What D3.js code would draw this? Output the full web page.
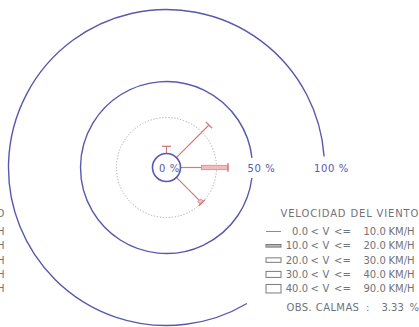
<!DOCTYPE html>
<html><head><meta charset="utf-8">
<script src="https://cdn.jsdelivr.net/npm/d3@7"></script>
<style>
html,body{margin:0;padding:0;background:#fff;overflow:hidden;}
svg{display:block;}
text{font-family:"DejaVu Sans",sans-serif;}
</style></head>
<body>
<svg id="c" width="419" height="327"></svg>
<script>
// ---- data ----
const directions = ["N", "NE", "E", "SE"];
const directionAngles = [0, 45, 90, 135];
const freqClass1 = [5, 32, 14.5, 22.5];   // 0-10 km/h (%)
const freqClass2 = [0, 0, 18.5, 2.5];     // 10-20 km/h (%)
const ringValues = [0, 25, 50, 100];
const ringLabels = ["0 %", "50 %", "100 %"];
const speedLow = ["0.0", "10.0", "20.0", "30.0", "40.0"];
const speedHigh = ["10.0", "20.0", "30.0", "40.0", "90.0"];
const legendTitle = "VELOCIDAD DEL VIENTO";
const calmLabel = "OBS. CALMAS";
const calmValue = "3.33";

// ---- layout ----
const svg = d3.select("#c");
const cx = 166.5, cy = 167.5;
const r = d3.scaleLinear().domain([0, 100]).range([14, 158]);
const blue = "#5858ad", red = "#d07a7a", grey = "#727279";
const deg = Math.PI / 180;

const g = svg.append("g").attr("transform", `translate(${cx},${cy})`);

// 25% dotted ring
g.append("circle").attr("r", r(ringValues[1])).attr("fill", "none")
  .attr("stroke", "#a9a9a9").attr("stroke-width", 1).attr("stroke-dasharray", "1.2,1.8");

// 50% ring with gap for its label
const p50 = d3.path();
p50.arc(0, 0, r(ringValues[2]), 7 * deg, 353.6 * deg, false);
g.append("path").attr("d", p50.toString()).attr("fill", "none").attr("stroke", blue).attr("stroke-width", 1.4);

// 100% ring (open on the legend side)
const p100 = d3.path();
p100.arc(0, 0, r(ringValues[3]), 59.4 * deg, 356 * deg, false);
g.append("path").attr("d", p100.toString()).attr("fill", "none").attr("stroke", blue).attr("stroke-width", 1.4);

// rays
directions.forEach((d, i) => {
  const rg = g.append("g").attr("transform", `rotate(${directionAngles[i]})`);
  const v1 = freqClass1[i], v2 = freqClass2[i];
  const tot = v1 + v2;
  rg.append("line").attr("x1", 0).attr("x2", 0)
    .attr("y1", -r(0)).attr("y2", -r(v1))
    .attr("stroke", red).attr("stroke-width", 1.2);
  if (v2 > 0) {
    rg.append("rect").attr("x", -2.2).attr("width", 4.4)
      .attr("y", -r(tot)).attr("height", r(tot) - r(v1))
      .attr("fill", "#f0bcbc").attr("stroke", "#d88888").attr("stroke-width", 0.8);
  }
  rg.append("line").attr("x1", -4.5).attr("x2", 4.5)
    .attr("y1", -r(tot)).attr("y2", -r(tot))
    .attr("stroke", red).attr("stroke-width", 1.3);
});

// calm circle (0%)
g.append("circle").attr("r", r(ringValues[0])).attr("fill", "none")
  .attr("stroke", blue).attr("stroke-width", 1.6);

// ring labels
const labelX = [cx - 7.5, cx + r(50) - 5, cx + r(100) - 10.5];
ringLabels.forEach((t, i) => {
  svg.append("text").attr("x", labelX[i]).attr("y", cy + 4)
    .attr("fill", blue).attr("font-size", 10).attr("letter-spacing", 0.6)
    .attr("xml:space", "preserve").text(t);
});

// legend
const lg = svg.append("g").attr("fill", grey).attr("font-size", 10);
lg.append("text").attr("x", 280.5).attr("y", 217).attr("letter-spacing", 0.85).text(legendTitle);
const rowY = d3.range(speedLow.length).map(i => 231.5 + i * 14.3);
const symH = [0, 2.6, 4.5, 6, 8.5];
speedLow.forEach((s, i) => {
  const y = rowY[i];
  if (i === 0) {
    lg.append("line").attr("x1", 266).attr("x2", 281).attr("y1", y).attr("y2", y)
      .attr("stroke", "#8a8a90").attr("stroke-width", 1);
  } else {
    lg.append("rect").attr("x", 266).attr("width", 15).attr("y", y - symH[i] / 2).attr("height", symH[i])
      .attr("fill", i === 1 ? "#b8b8bc" : "#fff").attr("stroke", "#7a7a80").attr("stroke-width", 1);
  }
  const ty = y + 3.6;
  lg.append("text").attr("x", 308).attr("y", ty).attr("text-anchor", "end").text(s);
  lg.append("text").attr("x", 310.5).attr("y", ty).text("<");
  lg.append("text").attr("x", 322.5).attr("y", ty).text("V");
  lg.append("text").attr("x", 334).attr("y", ty).text("<=");
  lg.append("text").attr("x", 363.5).attr("y", ty).text(speedHigh[i]);
  lg.append("text").attr("x", 388.5).attr("y", ty).text("KM/H");
});
const oy = 311.2;
lg.append("text").attr("x", 286.5).attr("y", oy).attr("letter-spacing", 0.4).text(calmLabel);
lg.append("text").attr("x", 366).attr("y", oy).text(":");
lg.append("text").attr("x", 381.5).attr("y", oy).text(calmValue);
lg.append("text").attr("x", 409.5).attr("y", oy).text("%");

// cut-off neighbouring legend at the left edge (as in the reference crop)
const lg2 = svg.append("g").attr("fill", grey).attr("font-size", 10).attr("text-anchor", "end");
lg2.append("text").attr("x", 4.5).attr("y", 217).text("VIENTO");
rowY.forEach(y => lg2.append("text").attr("x", 4.5).attr("y", y + 3.6).text("KM/H"));
</script>
</body></html>
